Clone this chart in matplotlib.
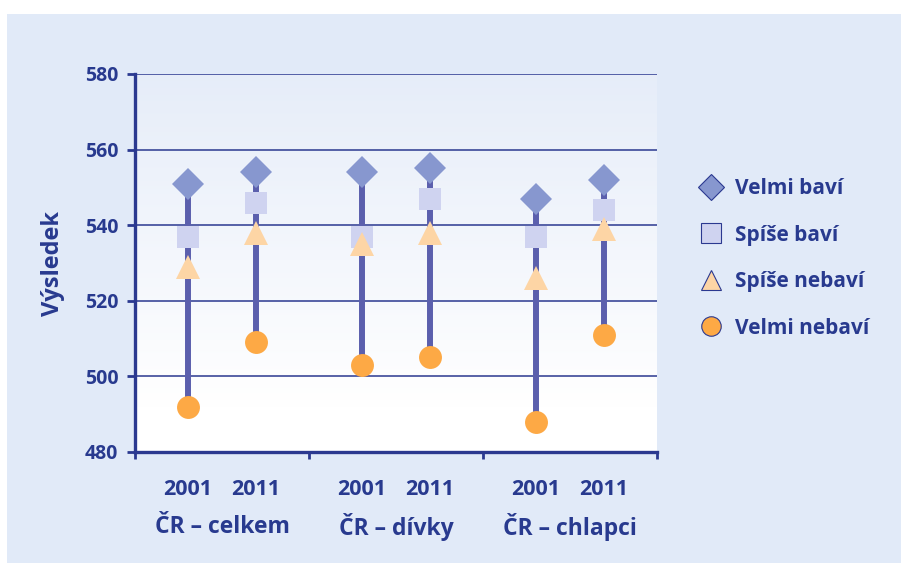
import numpy as np
import matplotlib
matplotlib.use("Agg")
import matplotlib.pyplot as plt
from matplotlib.lines import Line2D
from matplotlib.patches import Rectangle
import matplotlib.transforms as mtransforms

plt.rcParams["font.family"] = ["Open Sans", "DejaVu Sans"]
plt.rcParams["font.weight"] = "bold"

groups = ["ČR – celkem", "ČR – dívky", "ČR – chlapci"]
years = ["2001", "2011"]

velmi_bavi = [551, 554, 554, 555, 547, 552]
spise_bavi = [537, 546, 537, 547, 537, 544]
spise_nebavi = [529, 538, 535, 538, 526, 539]
velmi_nebavi = [492, 509, 503, 505, 488, 511]

series_names = ["Velmi baví", "Spíše baví", "Spíše nebaví", "Velmi nebaví"]

text_col = "#283a8f"
grid_col = "#2b3990"
line_col = "#5b5fad"
bg_col = "#e1eaf8"
styles = [
    ("D", "#8797cf", 16),
    ("s", "#cfd3f0", 16.5),
    ("^", "#fdd5a5", 17),
    ("o", "#fda945", 16.5),
]

fig = plt.figure(figsize=(9.01, 5.63), dpi=100)
fig.patch.set_facecolor("white")
fig.patches.append(Rectangle((7 / 901, 0), 1, 1 - 14 / 563, transform=fig.transFigure,
                             facecolor=bg_col, edgecolor="none", zorder=-10))

ax = fig.add_axes([135 / 901, 1 - 452 / 563, 522 / 901, 378 / 563])
ax.set_xlim(0, 3)
ax.set_ylim(480, 580)

# plot area: light blue at the top fading to white near the bottom
grad = np.linspace(0, 1, 256).reshape(-1, 1)
top = np.array([0.902, 0.929, 0.976])
white = np.array([1.0, 1.0, 1.0])
mix = np.clip((grad - 0.12) / 0.88, 0, 1)
img = white * (1 - mix[..., None]) + top * mix[..., None]
img = img.reshape(256, 1, 3)
ax.imshow(img, extent=[0, 3, 480, 580], origin="lower", aspect="auto", zorder=0)

x = []
for i in range(len(groups)):
    x += [i + 0.5 - 0.195, i + 0.5 + 0.195]
x = np.array(x)

for yv in [500, 520, 540, 560, 580]:
    ax.axhline(yv, color=grid_col, lw=1.1, zorder=1)

ax.vlines(x, velmi_nebavi, velmi_bavi, color=line_col, lw=4.3, zorder=2)

handles = []
for vals, (mk, col, ms), name in zip([velmi_bavi, spise_bavi, spise_nebavi, velmi_nebavi],
                                     styles, series_names):
    ax.plot(x, vals, ls="none", marker=mk, color=col, ms=ms, mec=col, mew=0, zorder=3)
    handles.append(Line2D([], [], ls="none", marker=mk, color=col, ms=ms * 0.85,
                          mec=grid_col, mew=0.8, label=name))

for s in ["top", "right"]:
    ax.spines[s].set_visible(False)
for s in ["left", "bottom"]:
    ax.spines[s].set_color(grid_col)
    ax.spines[s].set_linewidth(2.4)

ax.set_yticks([480, 500, 520, 540, 560, 580])
ax.tick_params(axis="y", colors=grid_col, length=6, width=2, labelsize=14,
               labelcolor=text_col, pad=6)
ax.set_xticks([0, 1, 2, 3])
ax.set_xticklabels([])
ax.tick_params(axis="x", colors=grid_col, length=5, width=2)

ax.set_ylabel("Výsledek", fontsize=17, color=text_col, fontweight="bold", labelpad=14)

trans = mtransforms.blended_transform_factory(ax.transData, ax.transAxes)
for i, g in enumerate(groups):
    for j, yr in enumerate(years):
        ax.text(x[2 * i + j], -0.1, yr, transform=trans, ha="center", va="center",
                fontsize=15.5, color=text_col, fontweight="bold")
    ax.text(i + 0.5, -0.198, g, transform=trans, ha="center", va="center",
            fontsize=16.5, color=text_col, fontweight="bold")

leg = fig.legend(handles=handles, loc="center left", bbox_to_anchor=(678 / 901, 1 - 258.5 / 563),
                 frameon=False, labelspacing=1.22, handletextpad=0.45, handlelength=1.4,
                 prop={"size": 15, "weight": "bold"})
for t in leg.get_texts():
    t.set_color(text_col)

fig.savefig("out.png", dpi=100)
